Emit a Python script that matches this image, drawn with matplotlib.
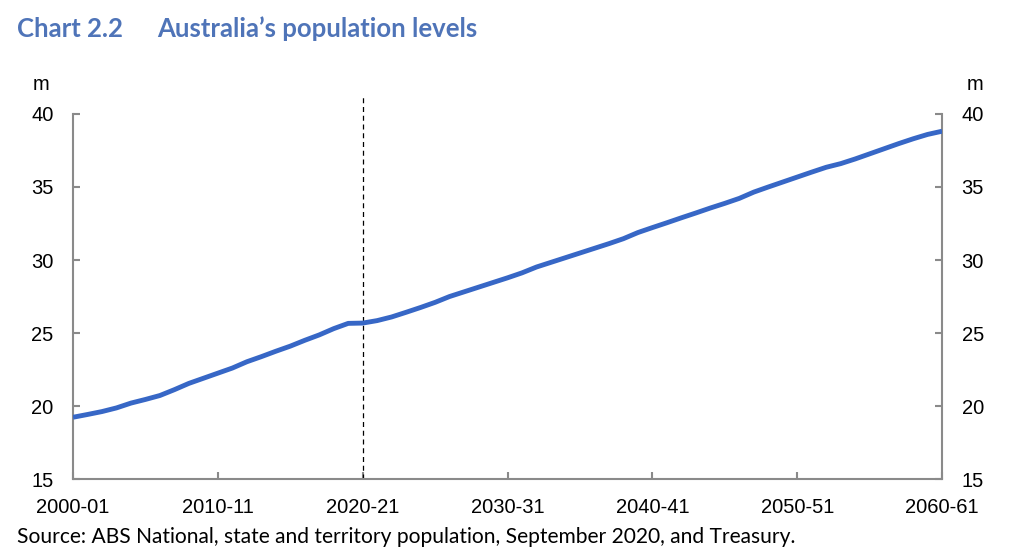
import numpy as np
import matplotlib
matplotlib.use("Agg")
from matplotlib import pyplot as plt

# financial years 2000-01 .. 2060-61, population in millions
years = np.arange(2000, 2061)
population = [
    19.23, 19.42, 19.62, 19.87, 20.20, 20.45, 20.72, 21.12, 21.55, 21.90,
    22.25, 22.60, 23.03, 23.38, 23.75, 24.10, 24.50, 24.87, 25.30, 25.66,
    25.68, 25.85, 26.10, 26.42, 26.75, 27.10, 27.50, 27.82, 28.14, 28.46,
    28.78, 29.12, 29.52, 29.84, 30.16, 30.48, 30.80, 31.12, 31.46, 31.88,
    32.22, 32.55, 32.89, 33.22, 33.56, 33.88, 34.22, 34.65, 35.00, 35.34,
    35.68, 36.02, 36.35, 36.60, 36.92, 37.27, 37.62, 37.97, 38.30, 38.60,
    38.82,
]
x_ticks = [2000, 2010, 2020, 2030, 2040, 2050, 2060]
x_labels = ["2000-01", "2010-11", "2020-21", "2030-31", "2040-41", "2050-51", "2060-61"]
y_ticks = [15, 20, 25, 30, 35, 40]
forecast_start = 2020

blue = "#3767c6"
grey = "#8a8a8a"

plt.rcParams["font.family"] = ["Liberation Sans", "DejaVu Sans"]

fig = plt.figure(figsize=(10.24, 5.52), dpi=100)
ax = fig.add_axes([0.0713, 0.1322, 0.920 - 0.0713, 0.7935 - 0.1322])

ax.plot(years, population, color=blue, lw=3.5, solid_capstyle="butt", zorder=3)
ax.plot([forecast_start, forecast_start], [15, 41.4], color="black", lw=0.9,
        ls=(0, (4, 3)), clip_on=False, zorder=2)

ax.set_xlim(2000, 2060)
ax.set_ylim(15, 40)
ax.set_xticks(x_ticks)
ax.set_xticklabels(x_labels)
ax.set_yticks(y_ticks)

ax.spines["top"].set_visible(False)
for s in ["left", "right", "bottom"]:
    ax.spines[s].set_color(grey)
    ax.spines[s].set_linewidth(1.5)

ax.tick_params(axis="both", direction="in", length=5, width=1.5, color=grey,
               labelsize=14.5, labelcolor="black")
ax.tick_params(axis="y", pad=14, right=True, labelright=True)
ax.tick_params(axis="x", pad=14)

fig.text(41 / 1024, 1 - 85 / 552, "m", fontsize=14.5, ha="center", va="center")
fig.text(975 / 1024, 1 - 85 / 552, "m", fontsize=14.5, ha="center", va="center")

fig.text(17 / 1024, 1 - 29 / 552, "Chart 2.2", fontsize=18.5, fontweight="bold",
         color="#4f74b8", family="Lato", ha="left", va="center")
fig.text(157 / 1024, 1 - 29 / 552, "Australia\u2019s population levels", fontsize=18.5,
         fontweight="bold", color="#4f74b8", family="Lato", ha="left", va="center")

fig.text(17 / 1024, 1 - 537 / 552,
         "Source: ABS National, state and territory population, September 2020, and Treasury.",
         fontsize=15.1, family="Lato", ha="left", va="center")

fig.savefig("out.png", dpi=100)
